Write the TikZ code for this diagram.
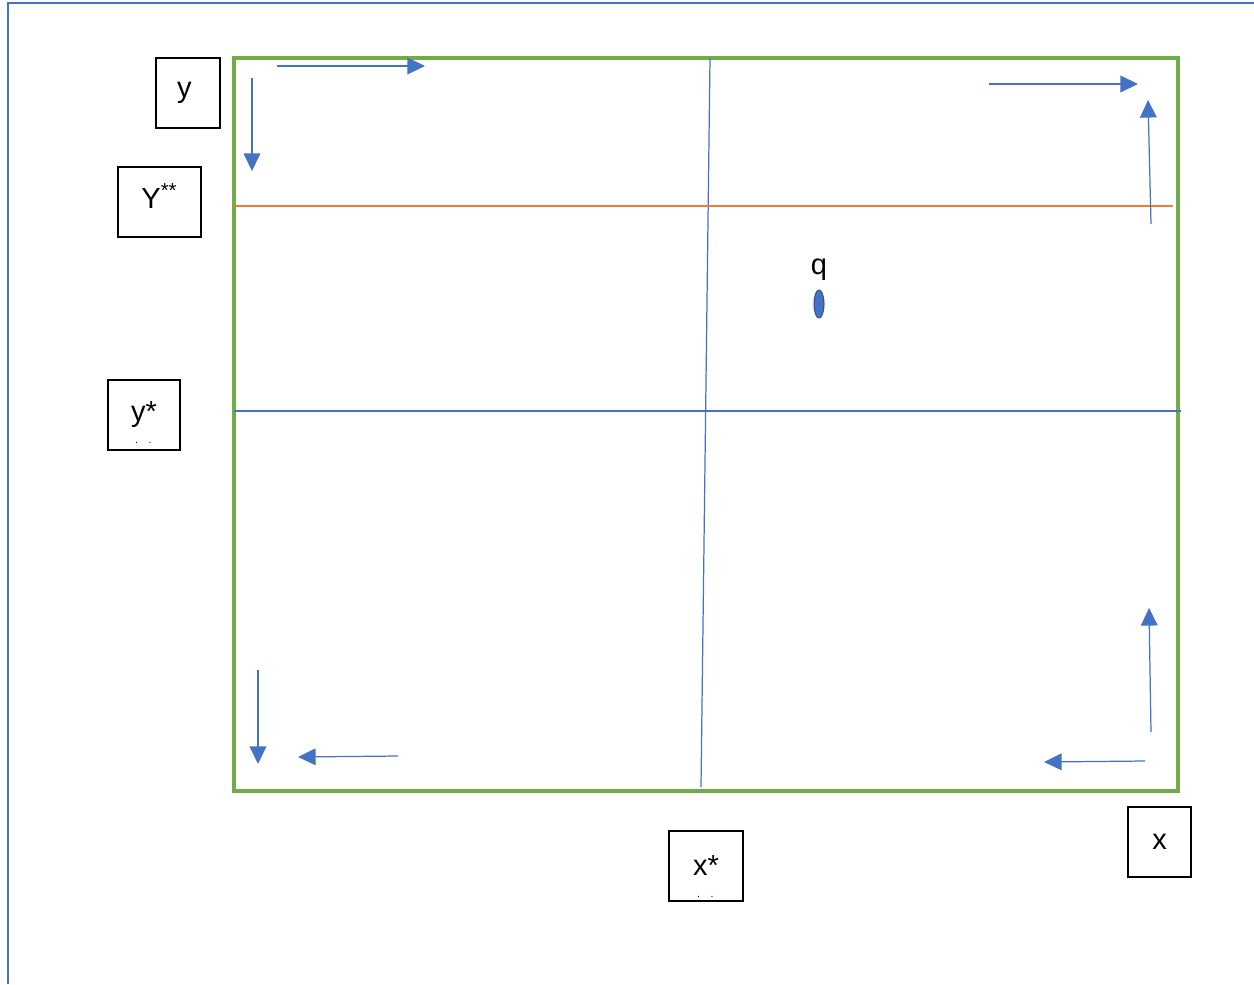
\documentclass[tikz,border=0pt]{standalone}
\usepackage{fontspec}
\setmainfont{Liberation Sans}
\usetikzlibrary{arrows.meta,shapes.geometric}
\definecolor{lineblue}{HTML}{4472C4}
\definecolor{darkblue}{HTML}{2F528F}
\definecolor{lineorange}{HTML}{ED7D31}
\definecolor{linegreen}{HTML}{70AD47}
\newcommand{\tinydots}{\makebox[0pt][r]{\raisebox{-12pt}[0pt][0pt]{\fontsize{6}{6}\selectfont.\hspace{6pt}.\hspace{3pt}}}}

\begin{document}
\begin{tikzpicture}[x=0.02cm, y=-0.02cm,
		flow/.style={line width=0.7pt, color=lineblue, -{Triangle[length=10pt, width=9.5pt]}},
		lblbox/.style={draw=black, line width=0.7pt, inner sep=0pt, minimum height=1.4cm, font=\fontsize{16.5}{18}\selectfont},
		lbltext/.style={font=\fontsize{16.5}{18}\selectfont}]
		%%%%% START %%%%%
		\useasboundingbox (0, 0) rectangle (1254, 984);
		
		\draw[line width=1.1pt, color=lineblue] (8, 984) -- (8, 3) -- (1254, 3);
		
		\draw[line width=1.8pt, color=linegreen] (234, 58) rectangle (1178, 791);
		
		\draw[line width=0.7pt, color=lineblue] (710, 58) -- (701, 787);
		\draw[line width=0.7pt, color=lineorange] (234, 206) -- (1173, 206);
		\draw[line width=0.7pt, color=lineblue] (234, 411) -- (1181, 411);
		
		\draw[flow] (277, 66) -- (425, 66);
		\draw[flow] (252, 78) -- (252, 171);
		\draw[flow] (989, 84) -- (1138, 84);
		\draw[flow] (1151, 224) -- (1148, 100);
		
		\draw[flow] (1151, 732) -- (1149, 608);
		\draw[flow] (1145, 761) -- (1044, 762);
		\draw[flow] (258, 670) -- (258, 764);
		\draw[flow] (398, 756) -- (298, 757);
		
		\node[lblbox, minimum width=1.28cm] (ybox) at (188, 93) {\hspace{-4pt}y};
		\node[lblbox, minimum width=1.66cm] (yss) at (159.5, 202) {\raisebox{7pt}{Y\textsuperscript{**}}};
		\node[lblbox, minimum width=1.44cm] (ys) at (144, 415) {y*\tinydots};
		\node[lblbox, minimum width=1.48cm] (xs) at (706, 866) {x*\tinydots};
		\node[lblbox, minimum width=1.26cm] (xbox) at (1159.5, 842) {x};
		
		\node[lbltext] (qlbl) at (819, 270) {q};
		\node[ellipse, draw=darkblue, fill=lineblue, line width=0.6pt, inner sep=0pt, minimum width=0.2cm, minimum height=0.56cm] (q) at (819, 304) {};
		%%%%% END %%%%%
\end{tikzpicture}
\end{document}
